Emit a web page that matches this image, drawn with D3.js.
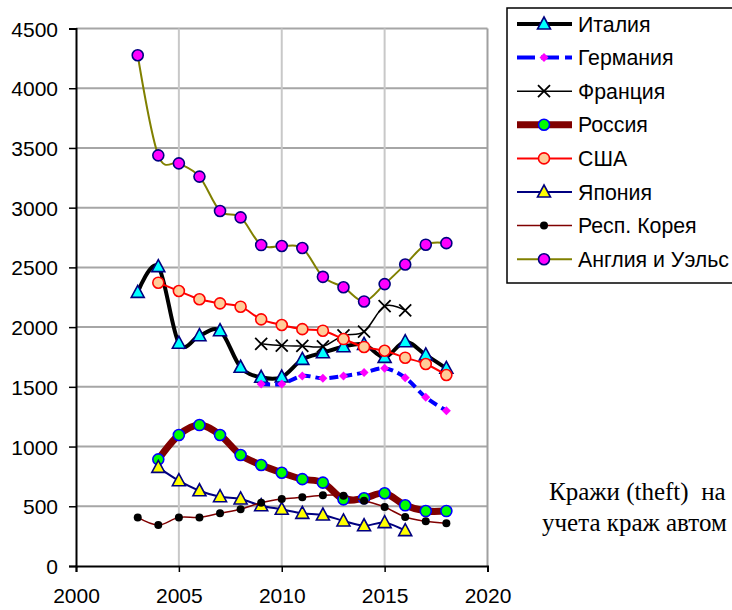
<!DOCTYPE html>
<html>
<head>
<meta charset="utf-8">
<script src="https://cdn.jsdelivr.net/npm/d3@7"></script>
<style>
  body { margin: 0; background: #fff; overflow: hidden; }
  svg { display: block; }
</style>
</head>
<body>
<div id="chart"></div>
<script>
// Thefts per 100k
const yearsItaly   = d3.range(2003, 2019);
const italy        = [2291, 2506, 1865, 1928, 1970, 1664, 1580, 1582, 1730, 1785, 1836, 1855, 1747, 1878, 1767, 1655];
const yearsGermany = d3.range(2009, 2019);
const germany      = [1524, 1524, 1591, 1571, 1591, 1619, 1655, 1577, 1412, 1300];
const yearsFrance  = d3.range(2009, 2017);
const france       = [1860, 1845, 1842, 1838, 1930, 1962, 2175, 2140];
const yearsRussia  = d3.range(2004, 2019);
const russia       = [893, 1097, 1180, 1097, 929, 846, 781, 727, 698, 558, 567, 609, 508, 460, 460];
const yearsUSA     = d3.range(2004, 2019);
const usa          = [2372, 2302, 2233, 2199, 2171, 2065, 2018, 1983, 1970, 1900, 1834, 1802, 1744, 1691, 1599];
const yearsJapan   = d3.range(2004, 2017);
const japan        = [826, 714, 630, 580, 561, 505, 475, 441, 427, 377, 337, 363, 296];
const yearsKorea   = d3.range(2003, 2019);
const korea        = [407, 343, 407, 407, 441, 475, 530, 561, 575, 592, 589, 547, 494, 410, 374, 357];
const yearsEngland = d3.range(2003, 2019);
const england      = [4276, 3438, 3371, 3260, 2972, 2919, 2687, 2679, 2662, 2421, 2334, 2215, 2360, 2524, 2690, 2703];

const names = ["Италия", "Германия", "Франция", "Россия", "США", "Япония", "Респ. Корея", "Англия и Уэльс"];
const xTicks = [2000, 2005, 2010, 2015, 2020];
const yTicks = d3.range(0, 4501, 500);
const note = ["Кражи (theft)  на", "учета краж автом"];

// series styles (Excel-like)
const series = [
  {name: names[0], years: yearsItaly, values: italy, stroke: "#000000", width: 4, marker: "triangle", fill: "#00ffff", mstroke: "#000080"},
  {name: names[1], years: yearsGermany, values: germany, stroke: "#0000ff", width: 4, dash: "9,5", marker: "diamond", fill: "#ff00ff", mstroke: "none"},
  {name: names[2], years: yearsFrance, values: france, stroke: "#000000", width: 1.5, marker: "x", fill: "none", mstroke: "#000000"},
  {name: names[3], years: yearsRussia, values: russia, stroke: "#800000", width: 7, marker: "circle", fill: "#00ff00", mstroke: "#0000ff"},
  {name: names[4], years: yearsUSA, values: usa, stroke: "#ff0000", width: 2, marker: "circle", fill: "#ffcc99", mstroke: "#ff0000"},
  {name: names[5], years: yearsJapan, values: japan, stroke: "#000080", width: 2, marker: "triangle", fill: "#ffff00", mstroke: "#000080"},
  {name: names[6], years: yearsKorea, values: korea, stroke: "#800000", width: 1.5, marker: "dot", fill: "#000000", mstroke: "#000000"},
  {name: names[7], years: yearsEngland, values: england, stroke: "#808000", width: 2, marker: "circle", fill: "#ff00ff", mstroke: "#000080"}
];

const W = 732, H = 610;
const svg = d3.select("#chart").append("svg")
  .attr("width", W)
  .attr("height", H);

const x = d3.scaleLinear().domain([2000, 2020]).range([76, 487.5]);
const y = d3.scaleLinear().domain([0, 4500]).range([566, 28.5]);

// gridlines
svg.append("g")
  .selectAll("line")
  .data(yTicks.filter(d => d > 0))
  .join("line")
    .attr("x1", x(2000)).attr("x2", x(2020))
    .attr("y1", d => y(d)).attr("y2", d => y(d))
    .attr("stroke", "#a6a6a6")
    .attr("stroke-width", 2);

svg.append("g")
  .selectAll("line")
  .data(xTicks.filter(d => d > 2000))
  .join("line")
    .attr("x1", d => x(d)).attr("x2", d => x(d))
    .attr("y1", y(0)).attr("y2", y(4500))
    .attr("stroke", d => d === 2020 ? "#a0a0a0" : "#c8c8c8")
    .attr("stroke-width", 2);

// axes
const font = "'Liberation Sans', Arial, sans-serif";
const yAxis = svg.append("g")
  .attr("transform", `translate(${x(2000)},0)`)
  .call(d3.axisLeft(y).tickValues(yTicks).tickSize(7).tickPadding(11).tickFormat(d3.format("d")));
const xAxis = svg.append("g")
  .attr("transform", `translate(0,${y(0)})`)
  .call(d3.axisBottom(x).tickValues(xTicks).tickSize(6).tickPadding(16).tickFormat(d3.format("d")));

[yAxis, xAxis].forEach(g => {
  g.select(".domain").attr("stroke", "#000").attr("stroke-width", 2);
  g.selectAll(".tick line").attr("stroke", "#000").attr("stroke-width", 1.5);
  g.selectAll(".tick text")
    .attr("fill", "#000")
    .style("font-family", font)
    .style("font-size", "21px");
});
yAxis.selectAll(".tick text").attr("dy", "0.36em");
xAxis.selectAll(".tick text").attr("dy", "0.71em");

// markers
function drawMarker(g, s, cx, cy) {
  if (s.marker === "triangle") {
    g.append("path")
      .attr("d", `M${cx},${cy - 7}L${cx + 6.5},${cy + 5}L${cx - 6.5},${cy + 5}Z`)
      .attr("fill", s.fill).attr("stroke", s.mstroke).attr("stroke-width", 1.6);
  } else if (s.marker === "diamond") {
    g.append("path")
      .attr("d", `M${cx},${cy - 4.5}L${cx + 4.5},${cy}L${cx},${cy + 4.5}L${cx - 4.5},${cy}Z`)
      .attr("fill", s.fill);
  } else if (s.marker === "x") {
    g.append("path")
      .attr("d", `M${cx - 6},${cy - 6}L${cx + 6},${cy + 6}M${cx + 6},${cy - 6}L${cx - 6},${cy + 6}`)
      .attr("stroke", s.mstroke).attr("stroke-width", 1.8);
  } else if (s.marker === "circle") {
    g.append("circle")
      .attr("cx", cx).attr("cy", cy).attr("r", 5.5)
      .attr("fill", s.fill).attr("stroke", s.mstroke).attr("stroke-width", 1.6);
  } else if (s.marker === "dot") {
    g.append("circle")
      .attr("cx", cx).attr("cy", cy).attr("r", 4)
      .attr("fill", s.fill);
  }
}

// smoothed lines like Excel
const line = d3.line()
  .x(d => x(d.year))
  .y(d => y(d.value))
  .curve(d3.curveCatmullRom.alpha(0));

series.forEach(s => {
  const pts = s.years.map((yr, i) => ({year: yr, value: s.values[i]}));
  const g = svg.append("g");
  g.append("path")
    .datum(pts)
    .attr("fill", "none")
    .attr("stroke", s.stroke)
    .attr("stroke-width", s.width)
    .attr("stroke-dasharray", s.dash || null)
    .attr("stroke-linejoin", "round")
    .attr("d", line);
  pts.forEach(p => drawMarker(g, s, x(p.year), y(p.value)));
});

// legend (its right side runs past the window edge)
const lg = svg.append("g");
lg.append("rect")
  .attr("x", 507).attr("y", 8)
  .attr("width", 260).attr("height", 275)
  .attr("fill", "#fff")
  .attr("stroke", "#000")
  .attr("stroke-width", 1.5);

series.forEach((s, i) => {
  const cy = 24 + i * 33.6;
  lg.append("line")
    .attr("x1", 517).attr("x2", 572)
    .attr("y1", cy).attr("y2", cy)
    .attr("stroke", s.stroke)
    .attr("stroke-width", s.width)
    .attr("stroke-dasharray", s.dash ? "18,6" : null);
  drawMarker(lg, s, 544, cy);
  lg.append("text")
    .attr("x", 578).attr("y", cy)
    .attr("dy", "0.36em")
    .style("font-family", font)
    .style("font-size", "21.3px")
    .text(s.name);
});

// side note (cut off by the window edge)
svg.selectAll(".note")
  .data(note)
  .join("text")
    .attr("class", "note")
    .attr("x", (d, i) => i === 0 ? 549 : 542)
    .attr("y", (d, i) => 500 + i * 31)
    .style("font-family", "'Liberation Serif', 'Times New Roman', serif")
    .style("font-size", "25px")
    .style("white-space", "pre")
    .text(d => d);
</script>
</body>
</html>
